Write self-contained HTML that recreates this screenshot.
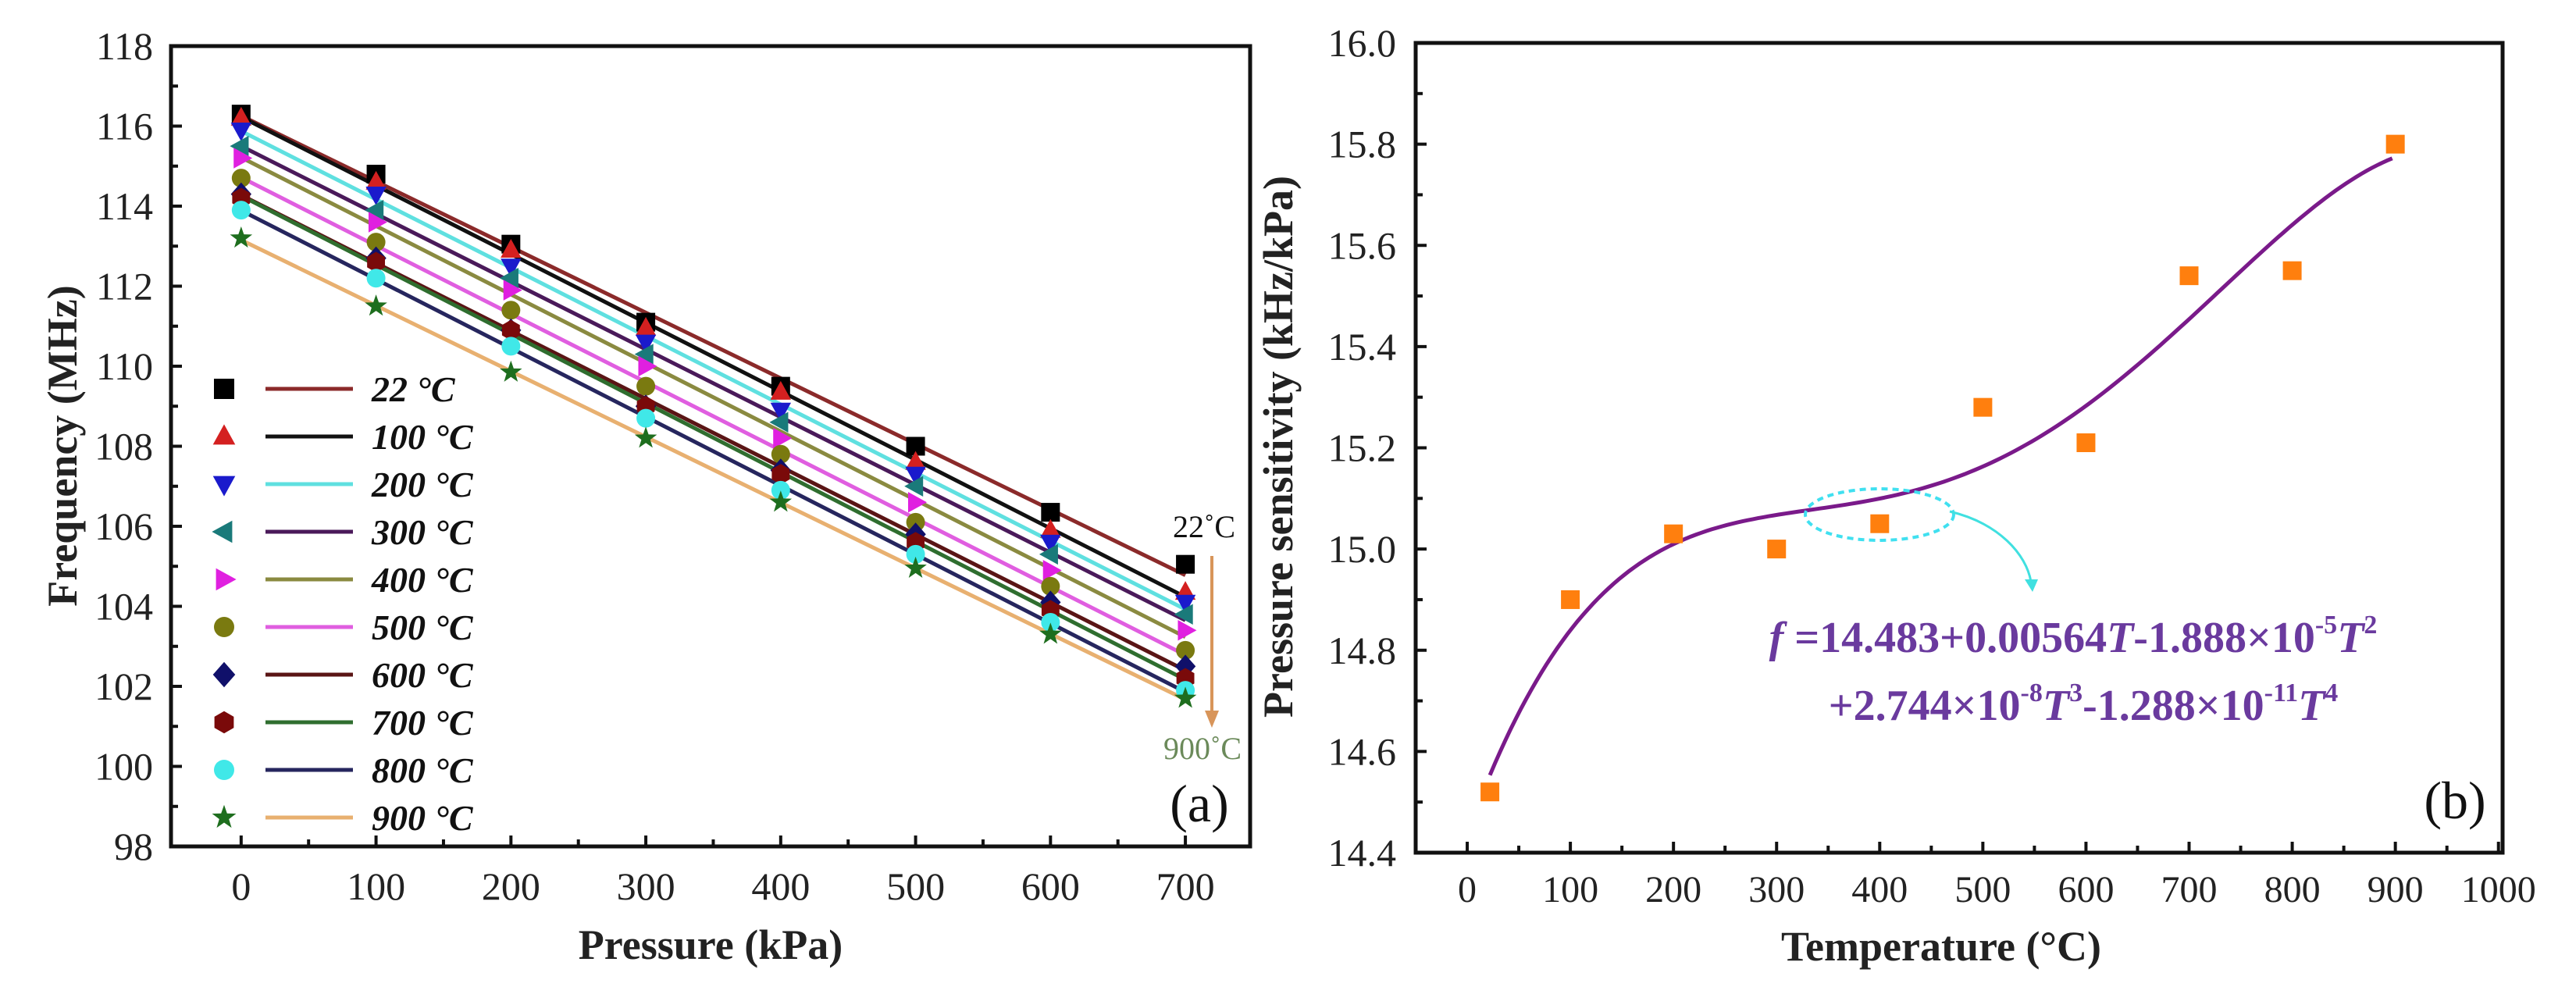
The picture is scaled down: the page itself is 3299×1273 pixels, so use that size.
<!DOCTYPE html>
<html><head><meta charset="utf-8">
<style>
html,body{margin:0;padding:0;background:#fff;}
svg{display:block;font-family:"Liberation Serif",serif;}
</style></head>
<body>
<svg id="fig" width="3299" height="1273" viewBox="0 0 3299 1273" xmlns="http://www.w3.org/2000/svg">
<g id="chartA"></g>
<g id="chartB"></g>
</svg>
<script>
// ---------- Chart (a) data ----------
const pressures = [0,100,200,300,400,500,600,700];
const tempLabels = ["22 °C","100 °C","200 °C","300 °C","400 °C","500 °C","600 °C","700 °C","800 °C","900 °C"];
const f22  = [116.3,114.8,113.05,111.1,109.5,108.0,106.35,105.05];
const f100 = [116.2,114.6,112.9,110.95,109.35,107.6,105.9,104.35];
const f200 = [115.9,114.3,112.5,110.6,108.9,107.3,105.6,104.1];
const f300 = [115.5,113.9,112.2,110.3,108.6,107.0,105.3,103.8];
const f400 = [115.2,113.6,111.9,110.0,108.2,106.6,104.9,103.4];
const f500 = [114.7,113.1,111.4,109.5,107.8,106.1,104.5,102.9];
const f600 = [114.3,112.7,110.9,109.0,107.4,105.8,104.1,102.5];
const f700 = [114.2,112.6,110.9,109.0,107.3,105.6,103.9,102.2];
const f800 = [113.9,112.2,110.5,108.7,106.9,105.3,103.6,101.9];
const f900 = [113.2,111.5,109.85,108.2,106.6,104.95,103.3,101.7];
const aSeries = [f22,f100,f200,f300,f400,f500,f600,f700,f800,f900];
const aXTicks = [0,100,200,300,400,500,600,700];
const aYTicks = [98,100,102,104,106,108,110,112,114,116,118];

// ---------- Chart (b) data ----------
const temps = [22,100,200,300,400,500,600,700,800,900];
const sens = [14.52,14.90,15.03,15.00,15.05,15.28,15.21,15.54,15.55,15.80];
const fitCoef = [14.438,0.00564,-1.888e-5,2.744e-8,-1.288e-11];
const bXTicks = [0,100,200,300,400,500,600,700,800,900,1000];
const bYTicks = [14.4,14.6,14.8,15.0,15.2,15.4,15.6,15.8,16.0];

const NS="http://www.w3.org/2000/svg";
function mk(parent,tag,attrs,text){const e=document.createElementNS(NS,tag);for(const k in attrs)e.setAttribute(k,attrs[k]);if(text!==undefined)e.textContent=text;parent.appendChild(e);return e;}

// ---------- Chart A ----------
const A = document.getElementById('chartA');
const aL=219,aR=1601,aT=59,aB=1084;
const aXmin=-52,aXmax=748,aYmin=98,aYmax=118;
const ax=v=>aL+(v-aXmin)/(aXmax-aXmin)*(aR-aL);
const ay=v=>aB-(v-aYmin)/(aYmax-aYmin)*(aB-aT);
const lineColors=["#8b2a2a","#111111","#5fe0e0","#4a1a5a","#8a8a40","#e05ee0","#5a1515","#2f6e2f","#26265e","#e8b070"];
const markColors=["#000000","#d42020","#1a1acc","#1a7a7a","#e020e0","#7a7a10","#10106a","#7a0a0a","#40e8e8","#1e6e1e"];
const shapes=["square","up","down","left","right","circle","diamond","hex","circle","star"];

function marker(parent,shape,cx,cy,r,color){
  let el;
  if(shape==="square") el=mk(parent,'rect',{x:cx-r,y:cy-r,width:2*r,height:2*r,fill:color});
  else if(shape==="circle") el=mk(parent,'circle',{cx:cx,cy:cy,r:r,fill:color});
  else {
    let pts=[];
    if(shape==="up") pts=[[0,-1.2],[1.1,0.8],[-1.1,0.8]];
    else if(shape==="down") pts=[[0,1.2],[1.1,-0.8],[-1.1,-0.8]];
    else if(shape==="left") pts=[[-1.2,0],[0.8,-1.1],[0.8,1.1]];
    else if(shape==="right") pts=[[1.2,0],[-0.8,-1.1],[-0.8,1.1]];
    else if(shape==="diamond") pts=[[0,-1.25],[1.1,0],[0,1.25],[-1.1,0]];
    else if(shape==="hex"){for(let i=0;i<6;i++){const a=Math.PI/6+i*Math.PI/3;pts.push([Math.cos(a)*1.1,Math.sin(a)*1.1]);}}
    else if(shape==="star"){for(let i=0;i<10;i++){const a=-Math.PI/2+i*Math.PI/5;const rr=i%2?0.5:1.25;pts.push([Math.cos(a)*rr,Math.sin(a)*rr]);}}
    el=mk(parent,'polygon',{points:pts.map(p=>(cx+p[0]*r)+','+(cy+p[1]*r)).join(' '),fill:color});
  }
  return el;
}

aSeries.forEach((s,i)=>{
  const n=s.length;let sx=0,sy=0,sxx=0,sxy=0;
  for(let k=0;k<n;k++){sx+=pressures[k];sy+=s[k];sxx+=pressures[k]*pressures[k];sxy+=pressures[k]*s[k];}
  const m=(n*sxy-sx*sy)/(n*sxx-sx*sx);const b=(sy-m*sx)/n;
  const x0=pressures[0],x1=pressures[n-1];
  const ln=mk(A,'line',{x1:ax(x0),y1:ay(b+m*x0),x2:ax(x1),y2:ay(b+m*x1),stroke:lineColors[i],'stroke-width':5});
  
  
});
aSeries.forEach((s,i)=>{
  const g=mk(A,'g',{});
  
  
  s.forEach((v,k)=>{
    const m=marker(g,shapes[i],ax(pressures[k]),ay(v),12,markColors[i]);
    
    
  });
});
const fa=mk(A,'rect',{x:aL,y:aT,width:aR-aL,height:aB-aT,fill:'none',stroke:'#111','stroke-width':5});


aYTicks.forEach((v,i)=>{
  const y=ay(v);
  mk(A,'line',{x1:aL,y1:y,x2:aL+14,y2:y,stroke:'#111','stroke-width':4});
  if(i<aYTicks.length-1){const ym=ay(v+1);mk(A,'line',{x1:aL,y1:ym,x2:aL+9,y2:ym,stroke:'#111','stroke-width':4});}
  const t=mk(A,'text',{x:196,y:y+17,'text-anchor':'end','font-size':50,fill:'#222'},String(v));
  
  
});
aXTicks.forEach((v,i)=>{
  const x=ax(v);
  mk(A,'line',{x1:x,y1:aB,x2:x,y2:aB-14,stroke:'#111','stroke-width':4});
  const xm=ax(v+50); if(v+50<aXmax) mk(A,'line',{x1:xm,y1:aB,x2:xm,y2:aB-9,stroke:'#111','stroke-width':4});
  const t=mk(A,'text',{x:x,y:1152,'text-anchor':'middle','font-size':50,fill:'#222'},String(v));
  
  
});
let t;
t=mk(A,'text',{x:(aL+aR)/2,y:1228,'text-anchor':'middle','font-size':54,'font-weight':'bold',fill:'#222'},'Pressure (kPa)');

t=mk(A,'text',{x:0,y:0,'text-anchor':'middle','font-size':54,'font-weight':'bold',fill:'#222',transform:'translate(98,571) rotate(-90)'},'Frequency (MHz)');

const lg=mk(A,'g',{});


tempLabels.forEach((lab,i)=>{
  const y=498+i*61;
  const e=mk(lg,'g',{});
  
  
  marker(e,shapes[i],287,y,13,markColors[i]);
  mk(e,'line',{x1:340,y1:y,x2:452,y2:y,stroke:lineColors[i],'stroke-width':5});
  mk(e,'text',{x:476,y:y+16,'font-size':46,'font-weight':'bold','font-style':'italic',fill:'#111'},lab);
});
t=mk(A,'text',{x:1542,y:688,'text-anchor':'middle','font-size':40,fill:'#111'},'22˚C');

const arr=mk(A,'g',{});


mk(arr,'line',{x1:1552,y1:712,x2:1552,y2:915,stroke:'#d8955a','stroke-width':4});
mk(arr,'polygon',{points:'1543,910 1561,910 1552,932',fill:'#d8955a'});
t=mk(A,'text',{x:1540,y:972,'text-anchor':'middle','font-size':40,fill:'#6b8a5a'},'900˚C');

t=mk(A,'text',{x:1536,y:1052,'text-anchor':'middle','font-size':68,fill:'#111'},'(a)');


// ---------- Chart B ----------
const B=document.getElementById('chartB');
const bL=1813,bR=3205,bT=55,bB=1092;
const bXmin=-50,bXmax=1004,bYmin=14.4,bYmax=16.0;
const bx=v=>bL+(v-bXmin)/(bXmax-bXmin)*(bR-bL);
const by=v=>bB-(v-bYmin)/(bYmax-bYmin)*(bB-bT);
let d='';
for(let T=temps[0];T<=temps[temps.length-1];T+=5){
  let f=0;fitCoef.forEach((c,k)=>{f+=c*Math.pow(T,k);});
  d+=(d?'L':'M')+bx(T).toFixed(1)+','+by(f).toFixed(1);
}
const cv=mk(B,'path',{d:d,fill:'none',stroke:'#7a1a8a','stroke-width':5});


temps.forEach((T,i)=>{
  const r=mk(B,'rect',{x:bx(T)-12,y:by(sens[i])-12,width:24,height:24,fill:'#ff7f0e'});
  
  
});
const el=mk(B,'ellipse',{cx:2407,cy:659,rx:95,ry:33,fill:'none',stroke:'#40e0f0','stroke-width':4,'stroke-dasharray':'8 6'});


const ca=mk(B,'path',{d:'M2497,655 C2560,670 2595,710 2601,745',fill:'none',stroke:'#40e0e0','stroke-width':3});


mk(B,'polygon',{points:'2593,742 2610,742 2603,758',fill:'#40e0e0'});
const eq=mk(B,'g',{fill:'#6a3a9e','font-weight':'bold','font-size':56});


const l1=mk(eq,'text',{x:2655,y:835,'text-anchor':'middle'});
l1.innerHTML='<tspan font-style="italic">f</tspan> =14.483+0.00564<tspan font-style="italic">T</tspan>-1.888×10<tspan font-size="34" dy="-24">-5</tspan><tspan font-style="italic" dy="24">T</tspan><tspan font-size="34" dy="-24">2</tspan>';
const l2=mk(eq,'text',{x:2668,y:922,'text-anchor':'middle'});
l2.innerHTML='+2.744×10<tspan font-size="34" dy="-24">-8</tspan><tspan font-style="italic" dy="24">T</tspan><tspan font-size="34" dy="-24">3</tspan><tspan dy="24">-1.288×10</tspan><tspan font-size="34" dy="-24">-11</tspan><tspan font-style="italic" dy="24">T</tspan><tspan font-size="34" dy="-24">4</tspan>';
const fb=mk(B,'rect',{x:bL,y:bT,width:bR-bL,height:bB-bT,fill:'none',stroke:'#111','stroke-width':5});


bYTicks.forEach((v,i)=>{
  const y=by(v);
  mk(B,'line',{x1:bL,y1:y,x2:bL+14,y2:y,stroke:'#111','stroke-width':4});
  if(i<bYTicks.length-1){const ym=by(v+0.1);mk(B,'line',{x1:bL,y1:ym,x2:bL+9,y2:ym,stroke:'#111','stroke-width':4});}
  const tt=mk(B,'text',{x:1788,y:y+17,'text-anchor':'end','font-size':50,fill:'#222'},v.toFixed(1));
  
  
});
bXTicks.forEach(v=>{
  const x=bx(v);
  mk(B,'line',{x1:x,y1:bB,x2:x,y2:bB-14,stroke:'#111','stroke-width':4});
  if(v+50<bXmax){const xm=bx(v+50);mk(B,'line',{x1:xm,y1:bB,x2:xm,y2:bB-9,stroke:'#111','stroke-width':4});}
  const tt=mk(B,'text',{x:x,y:1155,'text-anchor':'middle','font-size':48,fill:'#222'},String(v));
  
  
});
t=mk(B,'text',{x:2486,y:1230,'text-anchor':'middle','font-size':54,'font-weight':'bold',fill:'#222'},'Temperature (°C)');

t=mk(B,'text',{x:0,y:0,'text-anchor':'middle','font-size':54,'font-weight':'bold',fill:'#222',transform:'translate(1655,572) rotate(-90)'},'Pressure sensitivity (kHz/kPa)');

t=mk(B,'text',{x:3144,y:1048,'text-anchor':'middle','font-size':68,fill:'#111'},'(b)');

</script>
</body></html>
